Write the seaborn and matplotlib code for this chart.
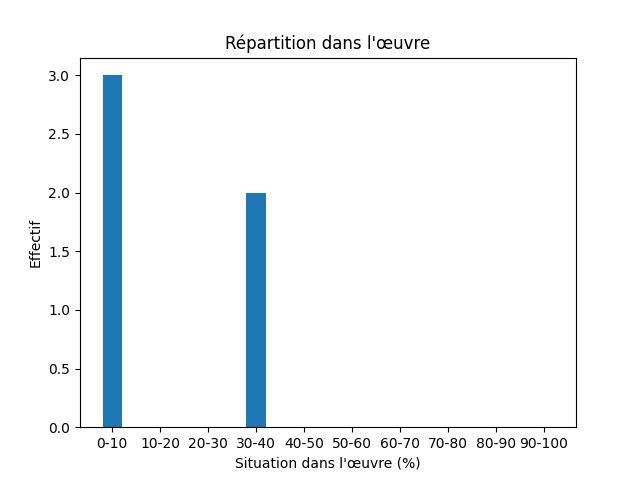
import matplotlib
matplotlib.use("Agg")
import matplotlib.pyplot as plt
import seaborn as sns
import pandas as pd

# Data
tranches = ["0-10", "10-20", "20-30", "30-40", "40-50",
            "50-60", "60-70", "70-80", "80-90", "90-100"]
effectifs = [3, 0, 0, 2, 0, 0, 0, 0, 0, 0]


def main():
    df = pd.DataFrame({"tranche": tranches, "effectif": effectifs})

    fig, ax = plt.subplots(figsize=(6.4, 4.8), dpi=100)
    sns.barplot(data=df, x="tranche", y="effectif", order=tranches,
                color="#1f77b4", saturation=1, width=0.4, ax=ax)

    # match matplotlib's default bar margins
    ax.set_xlim(-0.67, len(tranches) - 1 + 0.67)
    ax.set_ylim(0, 3.15)

    ax.set_title("Répartition dans l'œuvre")
    ax.set_xlabel("Situation dans l'œuvre (%)")
    ax.set_ylabel("Effectif")

    fig.savefig("out.png", dpi=100)


if __name__ == "__main__":
    main()
